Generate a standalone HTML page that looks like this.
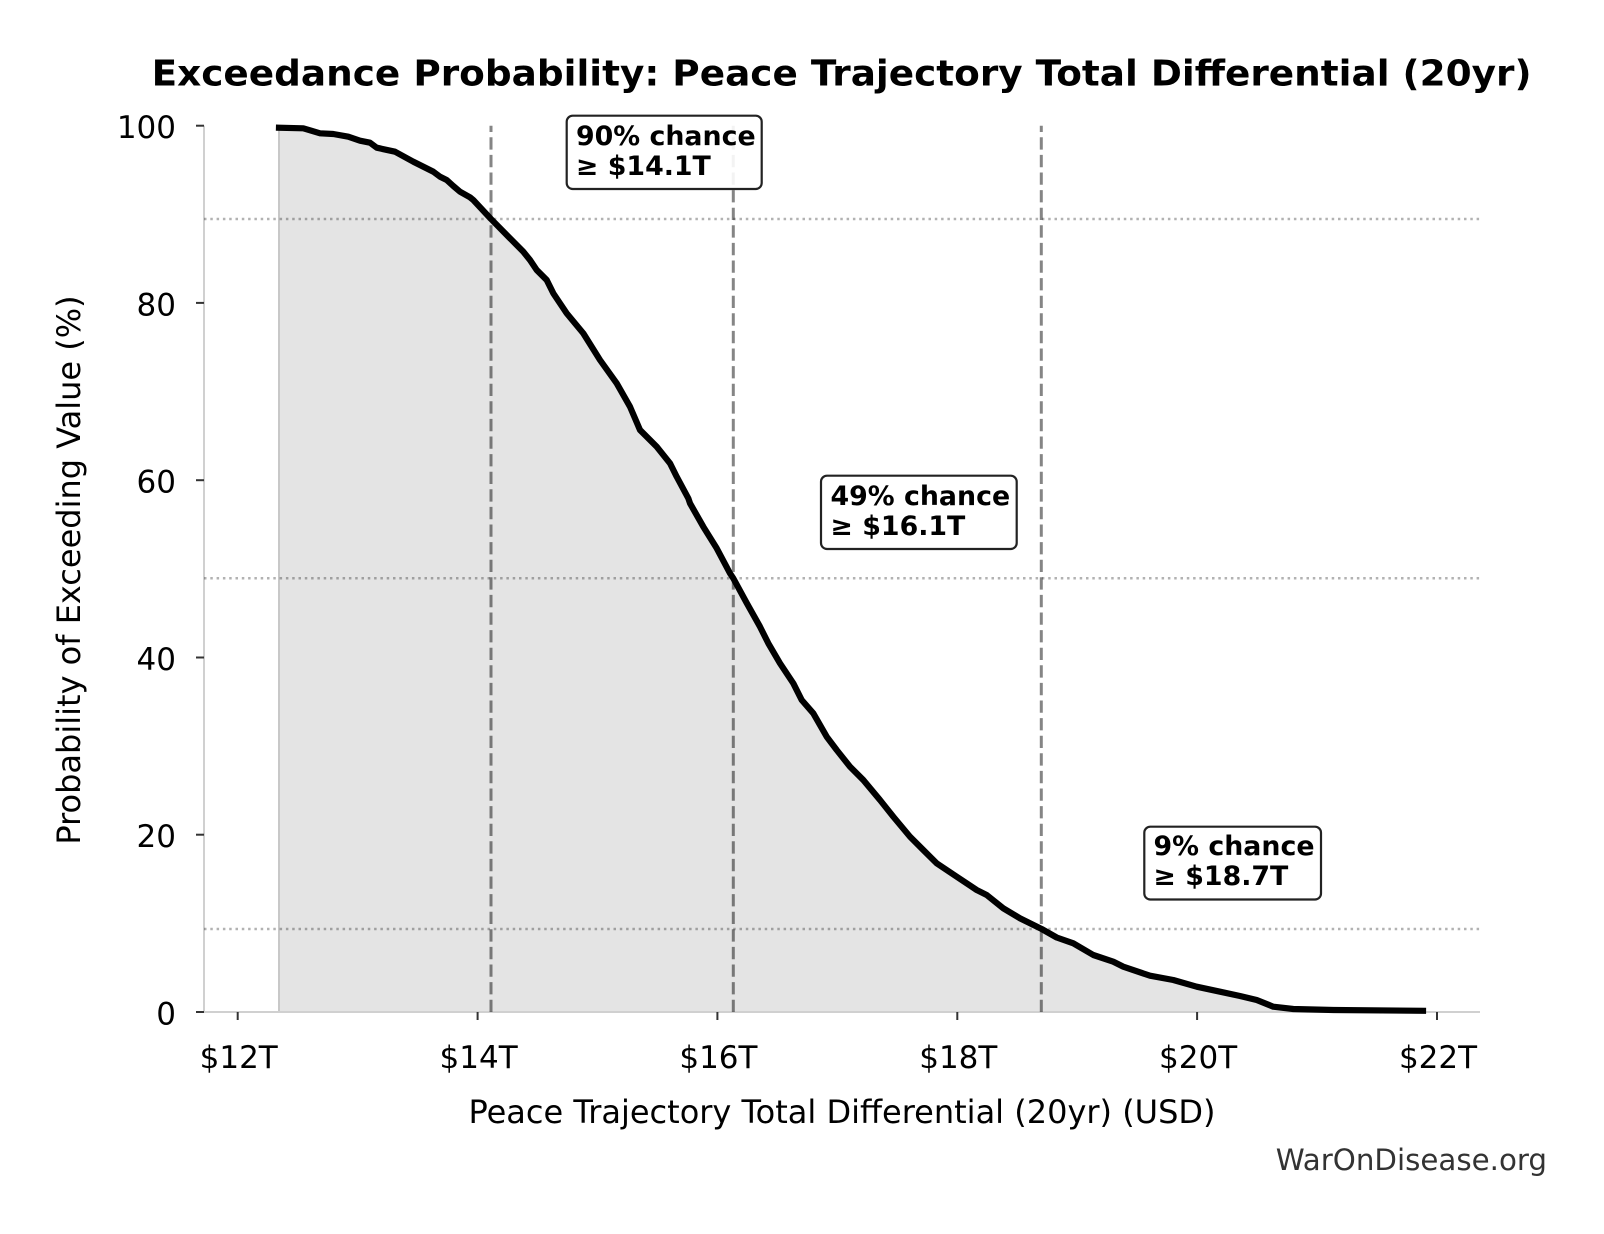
<!DOCTYPE html>
<html>
<head>
<meta charset="utf-8">
<style>
  html, body { margin: 0; padding: 0; background: #ffffff; }
  svg { display: block; }
  text { font-family: "DejaVu Sans", "Liberation Sans", sans-serif; }
</style>
</head>
<body>
<svg width="1604" height="1234" viewBox="0 0 1604 1234" xmlns="http://www.w3.org/2000/svg">
  <rect x="0" y="0" width="1604" height="1234" fill="#ffffff"/>

  <!-- Title -->
  <text x="841.6" y="85.7" font-size="36" font-weight="bold" text-anchor="middle" fill="#000" textLength="1380" lengthAdjust="spacingAndGlyphs">Exceedance Probability: Peace Trajectory Total Differential (20yr)</text>

  <!-- Fill under curve -->
  <polygon fill="#e4e4e4" points="279,1012 279,127.7 303.3,128.3 320,133.3 333.3,134 348.3,136.7 360,140.7 370,142.7 376.7,147.7 395,151.7 413.3,161.7 433.3,171.7 440,176.7 446.7,180 453.3,186 460,191.7 470,197.3 473.3,200 491,219 510,238.3 523.3,251.7 530,260 536.7,270 546.7,280 553.3,293.3 566.7,313.3 583.3,333.3 600,360 616.7,383.3 630,406.7 640,430 656.7,446.7 670,463.3 676.7,476.7 688.3,498.3 690,503.3 703.3,526.7 716.7,548.3 730,573.3 733.3,578.3 746.7,603 760,626.7 768.3,643.3 780,663.3 793.3,683.3 801.7,700 813.3,713.3 826.7,736.7 836.7,750 850,766.7 863.3,780 880,800 893.3,816.7 910,836.7 923.3,850 936.7,863.3 956.7,876.7 976.7,890 986.7,895 1003.3,908.3 1020,918.3 1041.7,929 1056.7,937.5 1073.3,943.3 1093.3,955 1113.3,961.7 1123.3,966.7 1150,975.7 1173.3,980 1196.7,986.7 1220,991.7 1240,996 1256.7,1000 1273.3,1006.7 1293.3,1009 1333.3,1010 1423,1010.8 1423,1012"/>
  <line x1="279" y1="1012" x2="279" y2="127.7" stroke="#c8c8c8" stroke-width="2"/>

  <!-- Spines -->
  <line x1="204" y1="125.7" x2="204" y2="1012" stroke="#d0d0d0" stroke-width="2"/>
  <line x1="204" y1="1012" x2="1480" y2="1012" stroke="#d0d0d0" stroke-width="2"/>

  <!-- Horizontal dotted lines -->
  <g stroke="#000" stroke-opacity="0.3" stroke-width="2.5" stroke-dasharray="2.5 3.8">
    <line x1="204" y1="219" x2="1480" y2="219"/>
    <line x1="204" y1="578.3" x2="1480" y2="578.3"/>
    <line x1="204" y1="929" x2="1480" y2="929"/>
  </g>

  <!-- Vertical dashed lines -->
  <g stroke="#000" stroke-opacity="0.48" stroke-width="3" stroke-dasharray="12.3 5.3">
    <line x1="491" y1="1012" x2="491" y2="125.7"/>
    <line x1="733.3" y1="1012" x2="733.3" y2="125.7"/>
    <line x1="1041.3" y1="1012" x2="1041.3" y2="125.7"/>
  </g>

  <!-- Curve -->
  <polyline fill="none" stroke="#000" stroke-width="6.2" stroke-linejoin="round" stroke-linecap="square" points="279,127.7 303.3,128.3 320,133.3 333.3,134 348.3,136.7 360,140.7 370,142.7 376.7,147.7 395,151.7 413.3,161.7 433.3,171.7 440,176.7 446.7,180 453.3,186 460,191.7 470,197.3 473.3,200 491,219 510,238.3 523.3,251.7 530,260 536.7,270 546.7,280 553.3,293.3 566.7,313.3 583.3,333.3 600,360 616.7,383.3 630,406.7 640,430 656.7,446.7 670,463.3 676.7,476.7 688.3,498.3 690,503.3 703.3,526.7 716.7,548.3 730,573.3 733.3,578.3 746.7,603 760,626.7 768.3,643.3 780,663.3 793.3,683.3 801.7,700 813.3,713.3 826.7,736.7 836.7,750 850,766.7 863.3,780 880,800 893.3,816.7 910,836.7 923.3,850 936.7,863.3 956.7,876.7 976.7,890 986.7,895 1003.3,908.3 1020,918.3 1041.7,929 1056.7,937.5 1073.3,943.3 1093.3,955 1113.3,961.7 1123.3,966.7 1150,975.7 1173.3,980 1196.7,986.7 1220,991.7 1240,996 1256.7,1000 1273.3,1006.7 1293.3,1009 1333.3,1010 1423,1010.8"/>

  <!-- Y ticks -->
  <g stroke="#333" stroke-width="2">
    <line x1="196" y1="125.7" x2="204" y2="125.7"/>
    <line x1="196" y1="302.9" x2="204" y2="302.9"/>
    <line x1="196" y1="480.2" x2="204" y2="480.2"/>
    <line x1="196" y1="657.5" x2="204" y2="657.5"/>
    <line x1="196" y1="834.7" x2="204" y2="834.7"/>
    <line x1="196" y1="1012" x2="204" y2="1012"/>
  </g>
  <g font-size="31" fill="#000" text-anchor="end">
    <text x="176" y="138.2">100</text>
    <text x="176" y="315.4">80</text>
    <text x="176" y="492.7">60</text>
    <text x="176" y="670">40</text>
    <text x="176" y="847.2">20</text>
    <text x="176" y="1024.5">0</text>
  </g>

  <!-- X ticks -->
  <g stroke="#333" stroke-width="2">
    <line x1="237.7" y1="1012" x2="237.7" y2="1020"/>
    <line x1="477.6" y1="1012" x2="477.6" y2="1020"/>
    <line x1="717.4" y1="1012" x2="717.4" y2="1020"/>
    <line x1="957.3" y1="1012" x2="957.3" y2="1020"/>
    <line x1="1197.1" y1="1012" x2="1197.1" y2="1020"/>
    <line x1="1437" y1="1012" x2="1437" y2="1020"/>
  </g>
  <g font-size="31" fill="#000" text-anchor="middle">
    <text x="238.7" y="1068">$12T</text>
    <text x="478.6" y="1068">$14T</text>
    <text x="718.4" y="1068">$16T</text>
    <text x="958.3" y="1068">$18T</text>
    <text x="1198.1" y="1068">$20T</text>
    <text x="1438" y="1068">$22T</text>
  </g>

  <!-- Axis labels -->
  <text x="842" y="1123" font-size="32" fill="#000" text-anchor="middle">Peace Trajectory Total Differential (20yr) (USD)</text>
  <text x="0" y="0" font-size="32" fill="#000" text-anchor="middle" transform="translate(80,570) rotate(-90)">Probability of Exceeding Value (%)</text>

  <!-- Annotation boxes -->
  <g>
    <rect x="566.7" y="115.7" width="195" height="73.3" rx="6" ry="6" fill="#fff" fill-opacity="0.9" stroke="#222" stroke-width="2.2"/>
    <text x="576" y="145" font-size="26.8" font-weight="bold" fill="#000">90% chance</text>
    <text x="576" y="175" font-size="26.8" font-weight="bold" fill="#000">≥ $14.1T</text>

    <rect x="821" y="475.7" width="195.7" height="73.3" rx="6" ry="6" fill="#fff" fill-opacity="0.9" stroke="#222" stroke-width="2.2"/>
    <text x="830.5" y="505" font-size="26.8" font-weight="bold" fill="#000">49% chance</text>
    <text x="830.5" y="535" font-size="26.8" font-weight="bold" fill="#000">≥ $16.1T</text>

    <rect x="1144.3" y="826.7" width="176.7" height="72.8" rx="6" ry="6" fill="#fff" fill-opacity="0.9" stroke="#222" stroke-width="2.2"/>
    <text x="1153.5" y="855" font-size="26.8" font-weight="bold" fill="#000">9% chance</text>
    <text x="1153.5" y="885" font-size="26.8" font-weight="bold" fill="#000">≥ $18.7T</text>
  </g>

  <!-- Watermark -->
  <text x="1547" y="1170" font-size="29.3" fill="#333" text-anchor="end">WarOnDisease.org</text>
</svg>
</body>
</html>
